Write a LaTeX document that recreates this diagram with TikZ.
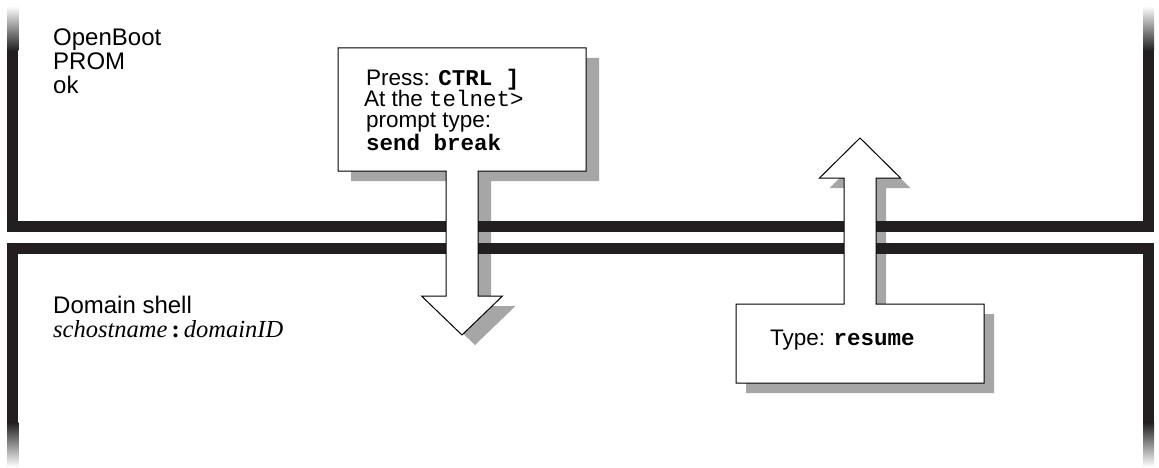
\documentclass[tikz,border=0pt]{standalone}
\usepackage{fontspec}
\setmainfont{Liberation Sans}
\setmonofont{Liberation Mono}
\newfontfamily\seriffont{Liberation Serif}
\usepackage{tikz}
\pgfdeclarelayer{bg}
\pgfdeclarelayer{fg}
\pgfsetlayers{bg,main,fg}
\definecolor{barcol}{HTML}{231F20}
\definecolor{shadowcol}{HTML}{A6A6A6}

\begin{document}
\begin{tikzpicture}[x=1pt, y=-1pt,
    bar/.style={line width=11pt, color=barcol},
    boxline/.style={draw=black, fill=white, line width=1pt},
    lbl/.style={anchor=base west, inner sep=0pt, font=\fontsize{24}{24}\selectfont},
    txt/.style={anchor=base west, inner sep=0pt, font=\fontsize{22.5}{22.5}\selectfont}]
    \useasboundingbox (0,0) rectangle (1159,468);

    \def\brkpath{(338,48) -- (586,48) -- (586,171) -- (478,171) -- (478,296) -- (502.5,296)
        -- (462,335) -- (421.5,296) -- (446,296) -- (446,171) -- (338,171) -- cycle}
    \def\respath{(736,304) -- (844,304) -- (844,178) -- (819.5,178) -- (860,138)
        -- (900.5,178) -- (876,178) -- (876,304) -- (984,304) -- (984,383) -- (736,383) -- cycle}

    % shadows
    \begin{pgfonlayer}{bg}
        \fill[shadowcol, shift={(13,10)}] \brkpath;
        \fill[shadowcol, shift={(10,10)}] \respath;
    \end{pgfonlayer}

    % OpenBoot PROM level
    \draw[bar] (12.75,50) -- (12.75,226.5) -- (1148.5,226.5) -- (1148.5,50);
    \shade[top color=white, bottom color=barcol] (7.25,6) rectangle (18.25,50.5);
    \shade[top color=white, bottom color=barcol] (1143,6) rectangle (1154,50.5);

    % domain shell level
    \draw[bar] (12.75,423) -- (12.75,248.5) -- (1148.5,248.5) -- (1148.5,423);
    \shade[top color=barcol, bottom color=white] (7.25,422.5) rectangle (18.25,467);
    \shade[top color=barcol, bottom color=white] (1143,422.5) rectangle (1154,467);

    % boxes with their arrows
    \draw[boxline] \brkpath;
    \draw[boxline] \respath;

    \foreach \t [count=\i] in {OpenBoot,PROM,ok}
        \node[lbl] (prom\i) at (53,22+24*\i) {\t};
    \node[lbl] (dsh) at (53,313) {Domain shell};
    \node[lbl, font=\seriffont\itshape\fontsize{24.5}{24.5}\selectfont] (dshid) at (53,337)
        {schostname\,{\upshape\bfseries :}\,domainID};

    \node[txt] (press) at (366,86) {Press: \texttt{\bfseries CTRL ]}};
    \node[txt] (atthe) at (364,107) {At the \texttt{telnet>}};
    \node[txt] (prompt) at (366,127.5) {prompt type:};
    \node[txt] (sendbrk) at (366,150.5) {\texttt{\bfseries send break}};
    \node[txt] (resume) at (770,345) {Type: \texttt{\bfseries resume}};
\end{tikzpicture}
\end{document}
